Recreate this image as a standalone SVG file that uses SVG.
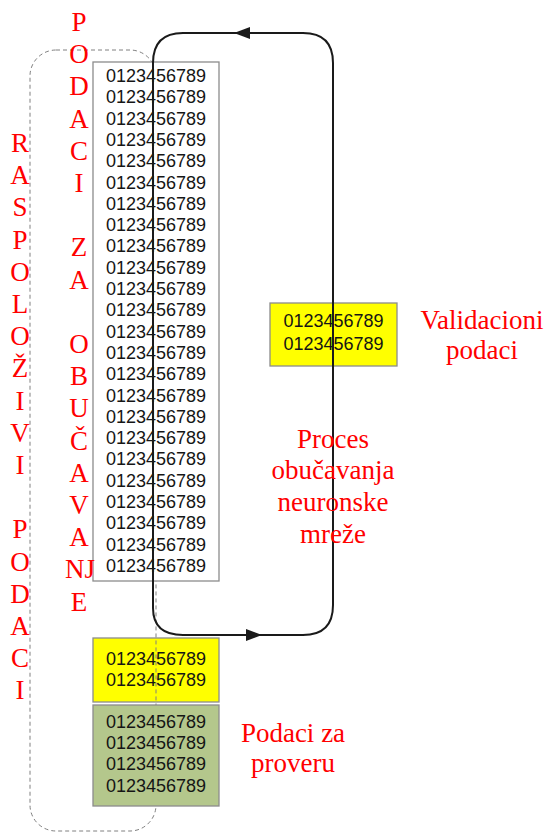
<svg xmlns="http://www.w3.org/2000/svg" width="547" height="832" viewBox="0 0 547 832">
<defs>
<style>
.num{font-family:"Liberation Sans",Arial,sans-serif;font-size:18px;fill:#151515;text-anchor:middle}
.lbl{font-family:"Liberation Serif","Times New Roman",serif;font-size:27px;fill:#ff0000;text-anchor:middle}
.vert{font-family:"Liberation Serif","Times New Roman",serif;font-size:27px;fill:#ff0000;text-anchor:middle}
.box{stroke:#8c8c8c;stroke-width:1.3}
.loop{fill:none;stroke:#1a1a1a;stroke-width:2}
</style>
<marker id="arr" viewBox="0 0 16 12" refX="16" refY="6" markerWidth="16" markerHeight="12" markerUnits="userSpaceOnUse" orient="auto">
<path d="M0,0 L16,6 L0,12 z" fill="#1a1a1a"/>
</marker>
</defs>
<rect width="547" height="832" fill="#ffffff"/>

<g id="test-yellow">
<rect class="box" x="93" y="638" width="126" height="64" fill="#ffff00"/>
<text class="num" x="156" y="665">0123456789</text>
<text class="num" x="156" y="686">0123456789</text>
</g>

<g id="available-data">
<rect x="30" y="50" width="126" height="781" rx="26" ry="26" fill="none" stroke="#808080" stroke-width="1" stroke-dasharray="4,3"/>
</g>

<g id="training-data">
<rect class="box" x="93" y="62" width="126" height="519" fill="#ffffff"/>
<text class="num" x="156" y="82">0123456789</text>
<text class="num" x="156" y="103.3">0123456789</text>
<text class="num" x="156" y="124.6">0123456789</text>
<text class="num" x="156" y="145.9">0123456789</text>
<text class="num" x="156" y="167.2">0123456789</text>
<text class="num" x="156" y="188.5">0123456789</text>
<text class="num" x="156" y="209.8">0123456789</text>
<text class="num" x="156" y="231.1">0123456789</text>
<text class="num" x="156" y="252.4">0123456789</text>
<text class="num" x="156" y="273.7">0123456789</text>
<text class="num" x="156" y="295">0123456789</text>
<text class="num" x="156" y="316.3">0123456789</text>
<text class="num" x="156" y="337.6">0123456789</text>
<text class="num" x="156" y="358.9">0123456789</text>
<text class="num" x="156" y="380.2">0123456789</text>
<text class="num" x="156" y="401.5">0123456789</text>
<text class="num" x="156" y="422.8">0123456789</text>
<text class="num" x="156" y="444.1">0123456789</text>
<text class="num" x="156" y="465.4">0123456789</text>
<text class="num" x="156" y="486.7">0123456789</text>
<text class="num" x="156" y="508">0123456789</text>
<text class="num" x="156" y="529.3">0123456789</text>
<text class="num" x="156" y="550.6">0123456789</text>
<text class="num" x="156" y="571.9">0123456789</text>
</g>

<g id="test-green">
<rect class="box" x="93" y="705" width="126" height="101" fill="#b4c78c"/>
<text class="num" x="156" y="727.5">0123456789</text>
<text class="num" x="156" y="749">0123456789</text>
<text class="num" x="156" y="770">0123456789</text>
<text class="num" x="156" y="791.5">0123456789</text>
</g>

<g id="validation-data">
<rect class="box" x="270" y="303" width="127" height="63" fill="#ffff00"/>
<text class="num" x="333.5" y="327">0123456789</text>
<text class="num" x="333.5" y="350">0123456789</text>
</g>

<g id="connectors">
<path class="loop" d="M 153 608 L 153 63 Q 153 33 183 33 L 303 33 Q 333 33 333 63 L 333 605 Q 333 635 303 635 L 183 635 Q 153 635 153 608"/>
<path class="loop" d="M 252 33 L 234 33" marker-end="url(#arr)"/>
<path class="loop" d="M 244 635 L 262 635" marker-end="url(#arr)"/>
</g>

<g id="label-training">
<text class="vert"><tspan x="79" y="31">P</tspan><tspan x="79" dy="32.2">O</tspan><tspan x="79" dy="32.2">D</tspan><tspan x="79" dy="32.2">A</tspan><tspan x="79" dy="32.2">C</tspan><tspan x="79" dy="32.2">I</tspan><tspan x="79" dy="64.4">Z</tspan><tspan x="79" dy="32.2">A</tspan><tspan x="79" dy="64.4">O</tspan><tspan x="79" dy="32.2">B</tspan><tspan x="79" dy="32.2">U</tspan><tspan x="79" dy="32.2">Č</tspan><tspan x="79" dy="32.2">A</tspan><tspan x="79" dy="32.2">V</tspan><tspan x="79" dy="32.2">A</tspan><tspan x="80" dy="32.2">NJ</tspan><tspan x="79" dy="32.2">E</tspan></text>
</g>

<g id="label-available">
<text class="vert"><tspan x="20" y="152">R</tspan><tspan x="20" dy="32.2">A</tspan><tspan x="20" dy="32.2">S</tspan><tspan x="20" dy="32.2">P</tspan><tspan x="20" dy="32.2">O</tspan><tspan x="20" dy="32.2">L</tspan><tspan x="20" dy="32.2">O</tspan><tspan x="20" dy="32.2">Ž</tspan><tspan x="20" dy="32.2">I</tspan><tspan x="20" dy="32.2">V</tspan><tspan x="20" dy="32.2">I</tspan><tspan x="20" dy="64.4">P</tspan><tspan x="20" dy="32.2">O</tspan><tspan x="20" dy="32.2">D</tspan><tspan x="20" dy="32.2">A</tspan><tspan x="20" dy="32.2">C</tspan><tspan x="20" dy="32.2">I</tspan></text>
</g>

<g id="label-validation">
<text class="lbl"><tspan x="482" y="329">Validacioni</tspan><tspan x="482" y="359">podaci</tspan></text>
</g>

<g id="label-process">
<text class="lbl"><tspan x="333" y="447.5">Proces</tspan><tspan x="333" y="479.4">obučavanja</tspan><tspan x="333" y="511.3">neuronske</tspan><tspan x="333" y="543.2">mreže</tspan></text>
</g>

<g id="label-test">
<text class="lbl"><tspan x="293" y="742">Podaci za</tspan><tspan x="293" y="772">proveru</tspan></text>
</g>
</svg>
